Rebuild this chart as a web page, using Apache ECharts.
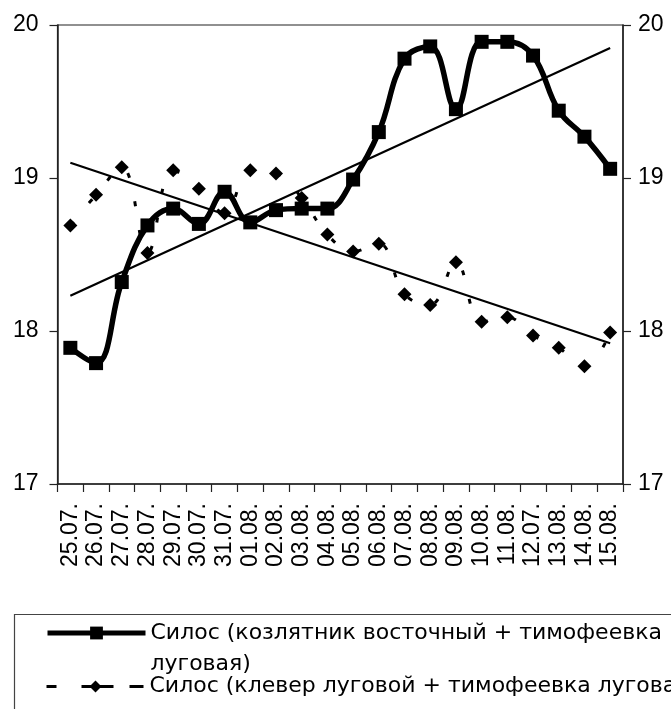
<!DOCTYPE html>
<html>
<head>
<meta charset="utf-8">
<script src="https://cdn.jsdelivr.net/npm/echarts@6/dist/echarts.min.js"></script>
<style>
  html, body { margin: 0; padding: 0; background: #fff; }
  #chart { width: 671px; height: 709px; }
</style>
</head>
<body>
<div id="chart"></div>
<script>
// Sampling dates (the 12.07. label is kept as printed)
const categories = ['25.07.', '26.07.', '27.07.', '28.07.', '29.07.', '30.07.', '31.07.', '01.08.',
  '02.08.', '03.08.', '04.08.', '05.08.', '06.08.', '07.08.', '08.08.', '09.08.', '10.08.', '11.08.',
  '12.07.', '13.08.', '14.08.', '15.08.'];

// Silage: eastern goat's rue + meadow timothy
const goatsRueSilage = [17.89, 17.79, 18.32, 18.69, 18.80, 18.70, 18.91, 18.71, 18.79, 18.80, 18.80,
  18.99, 19.30, 19.78, 19.86, 19.45, 19.89, 19.89, 19.80, 19.44, 19.27, 19.06];

// Silage: meadow clover + meadow timothy
const cloverSilage = [18.69, 18.89, 19.07, 18.51, 19.05, 18.93, 18.77, 19.05, 19.03, 18.87, 18.63,
  18.52, 18.57, 18.24, 18.17, 18.45, 18.06, 18.09, 17.97, 17.89, 17.77, 17.99];

// Linear trend lines: value at the first and at the last date
const goatsRueTrend = [18.23, 19.85];
const cloverTrend = [19.10, 17.92];

const yTicks = [17, 18, 19, 20];

const seriesNames = [
  'Силос (козлятник восточный + тимофеевка луговая)',
  'Силос (клевер луговой + тимофеевка луговая)'
];
// Legend text lines as they wrap in the legend box
const legendLines = [
  ['Силос (козлятник восточный + тимофеевка', 'луговая)'],
  ['Силос (клевер луговой + тимофеевка луговая)']
];

// A trend line only needs its two ends; the nulls in between are bridged
function trendData(ends) {
  return categories.map((c, i) => i === 0 ? ends[0] : (i === categories.length - 1 ? ends[1] : null));
}

const AXIS_COLOR = '#222';
const FONT = '"Liberation Sans", Arial, sans-serif';
const LEGEND_FONT = '"DejaVu Sans", "Liberation Sans", sans-serif';
const LEGEND_LINE = 31;

// The first text line sits level with the legend symbol; extra lines hang below it,
// so a blank line of the same total height is put on top to balance the block.
function legendText(lines) {
  const blank = lines.slice(1).map(() => '{e| }');
  return blank.concat(lines.map(l => '{t|' + l + '}')).join('\n');
}
const legendRich = {
  e: { lineHeight: LEGEND_LINE, fontSize: 22, fontFamily: LEGEND_FONT },
  t: { lineHeight: LEGEND_LINE, fontSize: 22, fontFamily: LEGEND_FONT, color: '#000' }
};

function yAxisDef(position, margin) {
  return {
    type: 'value',
    position: position,
    min: yTicks[0],
    max: yTicks[yTicks.length - 1],
    interval: 1,
    splitLine: { show: false },
    axisLine: { show: true, lineStyle: { color: AXIS_COLOR, width: 1.5 } },
    axisTick: { show: true, length: 8, inside: false, lineStyle: { color: AXIS_COLOR, width: 1.2 } },
    axisLabel: { color: '#000', fontFamily: FONT, fontSize: 23, margin: margin }
  };
}

const chart = echarts.init(document.getElementById('chart'), null, { renderer: 'canvas' });

chart.setOption({
  backgroundColor: '#fff',
  animation: false,
  grid: {
    left: 57.5, right: 48, top: 25, bottom: 225,
    show: true, borderColor: AXIS_COLOR, borderWidth: 1.2, backgroundColor: 'transparent'
  },
  xAxis: {
    type: 'category',
    data: categories,
    boundaryGap: true,
    axisLine: { show: true, lineStyle: { color: AXIS_COLOR, width: 1.5 } },
    axisTick: { show: true, interval: 0, length: 8, lineStyle: { color: AXIS_COLOR, width: 1.2 } },
    axisLabel: { interval: 0, rotate: 90, margin: 19, color: '#000', fontFamily: FONT, fontSize: 23 }
  },
  yAxis: [yAxisDef('left', 19), yAxisDef('right', 15)],
  legend: [
    {
      data: [seriesNames[0]],
      orient: 'vertical',
      left: 45, top: 591, padding: 0,
      itemWidth: 98, itemHeight: 16,
      formatter: () => legendText(legendLines[0]),
      textStyle: { color: '#000', fontFamily: LEGEND_FONT, fontSize: 22, rich: legendRich },
      lineStyle: { width: 5 }
    },
    {
      data: [seriesNames[1]],
      orient: 'vertical',
      left: 45, top: 675.5, padding: 0,
      itemWidth: 98, itemHeight: 15,
      formatter: () => legendText(legendLines[1]),
      textStyle: { color: '#000', fontFamily: LEGEND_FONT, fontSize: 22, rich: legendRich },
      lineStyle: { width: 3, type: [10, 25, 32, 16, 14, 100] }
    }
  ],
  graphic: [
    {
      type: 'rect',
      shape: { x: 14.5, y: 614.5, width: 720, height: 140 },
      style: { fill: 'none', stroke: '#444', lineWidth: 1.2 },
      silent: true
    }
  ],
  series: [
    {
      name: seriesNames[1],
      type: 'line',
      data: cloverSilage,
      smooth: 0.4,
      symbol: 'diamond',
      symbolSize: 14,
      itemStyle: { color: '#000' },
      lineStyle: { color: '#000', width: 3, type: [5, 24] },
      z: 2
    },
    {
      name: seriesNames[0],
      type: 'line',
      data: goatsRueSilage,
      smooth: 0.4,
      symbol: 'rect',
      symbolSize: 14,
      itemStyle: { color: '#000' },
      lineStyle: { color: '#000', width: 5.5 },
      z: 3
    },
    {
      name: 'trend-1',
      type: 'line',
      data: trendData(goatsRueTrend),
      connectNulls: true,
      symbol: 'none',
      lineStyle: { color: '#000', width: 2.2 },
      silent: true,
      z: 4
    },
    {
      name: 'trend-2',
      type: 'line',
      data: trendData(cloverTrend),
      connectNulls: true,
      symbol: 'none',
      lineStyle: { color: '#000', width: 2.2 },
      silent: true,
      z: 4
    }
  ]
});
</script>
</body>
</html>
